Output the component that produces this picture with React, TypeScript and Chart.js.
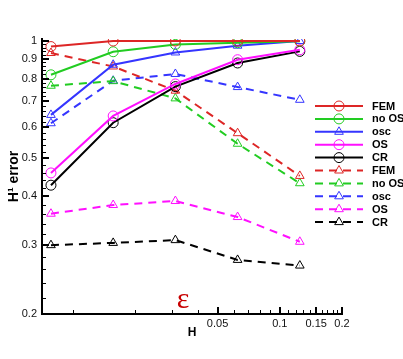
import React, { useEffect, useRef } from 'react';
import { Chart, registerables } from 'chart.js';

Chart.register(...registerables);

// Mesh size H (x values)
const H = [0.0078125, 0.015625, 0.03125, 0.0625, 0.125];

// Solid lines (circles / triangle for osc)
const femSolid = [0.966, 0.998, 0.998, 0.998, 0.998];
const noOsSolid = [0.818, 0.937, 0.978, 0.988, 0.997];
const oscSolid = [0.646, 0.868, 0.933, 0.971, 0.998];
const osSolid = [0.459, 0.642, 0.775, 0.894, 0.948];
const crSolid = [0.427, 0.617, 0.763, 0.877, 0.939];

// Dashed lines (triangles)
const femDashed = [0.93, 0.859, 0.745, 0.58, 0.451];
const noOsDashed = [0.767, 0.788, 0.712, 0.545, 0.432];
const oscDashed = [0.615, 0.79, 0.822, 0.761, 0.706];
const osDashed = [0.361, 0.38, 0.389, 0.354, 0.306];
const crDashed = [0.3, 0.304, 0.309, 0.275, 0.266];

const seriesLabels = ['FEM', 'no OS', 'osc', 'OS', 'CR', 'FEM', 'no OS', 'osc', 'OS', 'CR'];

const xMajorTicks = [0.05, 0.1, 0.15, 0.2];
const xMinorTicks = [0.01, 0.02, 0.03, 0.04, 0.06, 0.07, 0.08, 0.09, 0.11, 0.12, 0.13, 0.14, 0.16, 0.17, 0.18, 0.19];
const yMajorTicks = [0.2, 0.3, 0.4, 0.5, 0.6, 0.7, 0.8, 0.9, 1];
const yMinorTicks = [
  0.22, 0.24, 0.26, 0.28, 0.32, 0.34, 0.36, 0.38, 0.42, 0.44, 0.46, 0.48,
  0.52, 0.54, 0.56, 0.58, 0.62, 0.64, 0.66, 0.68, 0.72, 0.74, 0.76, 0.78,
  0.82, 0.84, 0.86, 0.88, 0.92, 0.94, 0.96, 0.98,
];

const RED = '#dd2626';
const GREEN = '#22cc22';
const BLUE = '#3535ff';
const MAGENTA = '#ff10ff';
const BLACK = '#000000';

const FONT = '"Liberation Sans", Arial, sans-serif';

function toPoints(values: number[]) {
  return values.map((v, i) => ({ x: H[i], y: v }));
}

function makeDataset(label: string, values: number[], color: string, dashed: boolean, marker: string) {
  return {
    label,
    data: toPoints(values),
    borderColor: color,
    backgroundColor: color,
    borderWidth: 2,
    borderDash: dashed ? [8, 6] : [],
    pointStyle: marker,
    pointRadius: 5,
    pointBorderWidth: 1,
    pointBorderColor: color,
    pointBackgroundColor: 'rgba(0,0,0,0)',
    tension: 0,
    fill: false,
  };
}

const decorPlugin = {
  id: 'decor',
  afterDraw(chart: any) {
    const ctx: CanvasRenderingContext2D = chart.ctx;
    const { left, bottom } = chart.chartArea;
    const xs = chart.scales.x;
    const ys = chart.scales.y;
    ctx.save();
    ctx.strokeStyle = '#000';
    ctx.setLineDash([]);
    // major inward ticks
    ctx.lineWidth = 2;
    ctx.beginPath();
    yMajorTicks.forEach((v) => {
      const y = Math.round(ys.getPixelForValue(v));
      ctx.moveTo(left, y);
      ctx.lineTo(left + 7, y);
    });
    xMajorTicks.forEach((v) => {
      const x = Math.round(xs.getPixelForValue(v));
      ctx.moveTo(x, bottom);
      ctx.lineTo(x, bottom - 7);
    });
    ctx.stroke();
    // minor inward ticks
    ctx.lineWidth = 1;
    ctx.beginPath();
    yMinorTicks.forEach((v) => {
      const y = Math.round(ys.getPixelForValue(v)) + 0.5;
      ctx.moveTo(left, y);
      ctx.lineTo(left + 4, y);
    });
    xMinorTicks.forEach((v) => {
      const x = Math.round(xs.getPixelForValue(v)) + 0.5;
      ctx.moveTo(x, bottom);
      ctx.lineTo(x, bottom - 4);
    });
    ctx.stroke();

    // legend
    const lx0 = 315;
    const lx1 = 363;
    const mx = 339;
    const ly0 = 106;
    const step = 12.9;
    chart.data.datasets.forEach((ds: any, i: number) => {
      const y = ly0 + i * step;
      ctx.strokeStyle = ds.borderColor;
      ctx.lineWidth = 2;
      ctx.setLineDash(ds.borderDash || []);
      ctx.beginPath();
      ctx.moveTo(lx0, y);
      ctx.lineTo(lx1, y);
      ctx.stroke();
      ctx.setLineDash([]);
      ctx.lineWidth = 1;
      ctx.beginPath();
      if (ds.pointStyle === 'circle') {
        ctx.arc(mx, y, 5, 0, Math.PI * 2);
      } else {
        const r = 5;
        for (let k = 0; k < 3; k++) {
          const a = (k * 2 * Math.PI) / 3;
          const px = mx + Math.sin(a) * r;
          const py = y - Math.cos(a) * r;
          if (k === 0) ctx.moveTo(px, py);
          else ctx.lineTo(px, py);
        }
        ctx.closePath();
      }
      ctx.stroke();
      ctx.fillStyle = '#000';
      ctx.font = `bold 11px ${FONT}`;
      ctx.textAlign = 'left';
      ctx.textBaseline = 'middle';
      ctx.fillText(ds.label, 372, y + 0.5);
    });

    // epsilon annotation
    ctx.fillStyle = '#c80000';
    ctx.font = '30px "Liberation Serif", "DejaVu Serif", serif';
    ctx.textAlign = 'center';
    ctx.textBaseline = 'alphabetic';
    ctx.fillText('ε', 183, 308);
    ctx.restore();
  },
};

export default function App() {
  const canvasRef = useRef<HTMLCanvasElement | null>(null);

  useEffect(() => {
    if (!canvasRef.current) return;
    const datasets = [
      makeDataset(seriesLabels[0], femSolid, RED, false, 'circle'),
      makeDataset(seriesLabels[1], noOsSolid, GREEN, false, 'circle'),
      makeDataset(seriesLabels[2], oscSolid, BLUE, false, 'triangle'),
      makeDataset(seriesLabels[3], osSolid, MAGENTA, false, 'circle'),
      makeDataset(seriesLabels[4], crSolid, BLACK, false, 'circle'),
      makeDataset(seriesLabels[5], femDashed, RED, true, 'triangle'),
      makeDataset(seriesLabels[6], noOsDashed, GREEN, true, 'triangle'),
      makeDataset(seriesLabels[7], oscDashed, BLUE, true, 'triangle'),
      makeDataset(seriesLabels[8], osDashed, MAGENTA, true, 'triangle'),
      makeDataset(seriesLabels[9], crDashed, BLACK, true, 'triangle'),
    ];
    const chart = new Chart(canvasRef.current, {
      type: 'line',
      data: { datasets } as any,
      plugins: [decorPlugin],
      options: {
        responsive: false,
        animation: false,
        layout: { padding: { left: 0, right: 61, top: 39, bottom: 0 } },
        plugins: {
          legend: { display: false },
          tooltip: { enabled: false },
        },
        scales: {
          x: {
            type: 'logarithmic',
            min: 0.00707,
            max: 0.2,
            afterBuildTicks: (s: any) => {
              s.ticks = xMajorTicks.map((v) => ({ value: v }));
            },
            afterFit: (s: any) => {
              s.height = 45;
            },
            grid: { display: false, drawTicks: false },
            border: { display: true, color: '#000', width: 2 },
            ticks: {
              autoSkip: false,
              maxRotation: 0,
              minRotation: 0,
              padding: 3,
              color: '#111',
              font: { family: FONT, size: 11 },
              callback: (v: any) => String(v),
            },
            title: {
              display: true,
              text: 'H',
              color: '#000',
              font: { family: FONT, size: 12, weight: 'bold' },
              padding: { top: 0, bottom: 19 },
            },
          },
          y: {
            type: 'logarithmic',
            min: 0.2,
            max: 1.01,
            afterBuildTicks: (s: any) => {
              s.ticks = yMajorTicks.map((v) => ({ value: v }));
            },
            afterFit: (s: any) => {
              s.width = 42;
            },
            grid: { display: false, drawTicks: false },
            border: { display: true, color: '#000', width: 2 },
            ticks: {
              autoSkip: false,
              padding: 5,
              color: '#111',
              font: { family: FONT, size: 11 },
              callback: (v: any) => String(v),
            },
            title: {
              display: true,
              text: 'H¹ error',
              color: '#000',
              font: { family: FONT, size: 14, weight: 'bold' },
              padding: { top: 5.5, bottom: 0 },
            },
          },
        },
      } as any,
    });
    return () => chart.destroy();
  }, []);

  return (
    <div style={{ position: 'absolute', left: 0, top: 0, width: 403, height: 359, background: '#fff' }}>
      <canvas ref={canvasRef} width={403} height={359} style={{ display: 'block' }} />
    </div>
  );
}
